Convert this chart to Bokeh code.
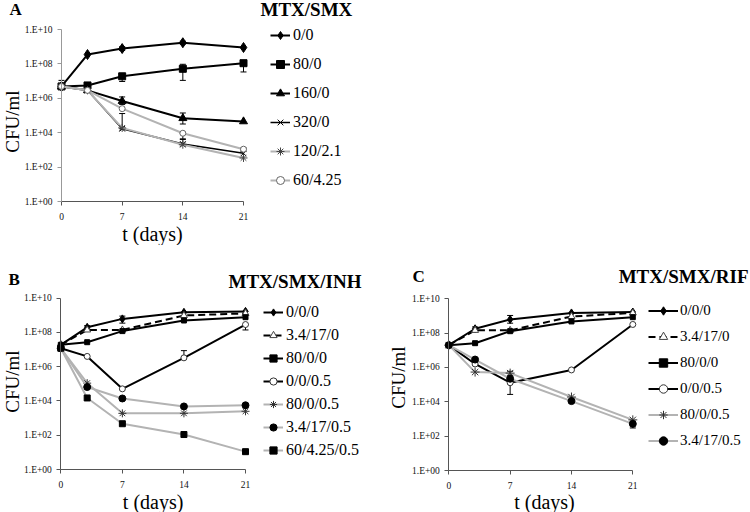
import math
from bokeh.plotting import figure
from bokeh.models import (Range1d, FixedTicker, CustomJSTickFormatter, Legend, LegendItem,
                          Label, Whisker, ColumnDataSource, TeeHead)
from bokeh.layouts import column, row
from bokeh.embed import file_html
from bokeh.resources import INLINE

FONT = "Liberation Serif"
BLACK = "#000000"
GRAY = "#b3b3b3"

DAYS = [0, 3, 7, 14, 21]
X_TICKS = [0, 7, 14, 21]
Y_TICKS = [1, 1e2, 1e4, 1e6, 1e8, 1e10]

# ---------------- Panel A: MTX/SMX ----------------
A_TITLE = "MTX/SMX"
A_LABELS = ["0/0", "80/0", "160/0", "320/0", "120/2.1", "60/4.25"]
A_0_0 = [4.9e6, 3.5e8, 7.8e8, 1.7e9, 9.0e8]
A_80_0 = [4.9e6, 5.6e6, 1.9e7, 5.2e7, 1.1e8]
A_160_0 = [4.9e6, 2.9e6, 6.9e5, 6.9e4, 4.5e4]
A_320_0 = [4.9e6, 2.9e6, 1.7e4, 2.2e3, 6.3e2]
A_120_21 = [4.9e6, 2.9e6, 1.9e4, 2.0e3, 3.4e2]
A_60_425 = [4.9e6, 2.9e6, 2.5e5, 9.3e3, 1.1e3]
A_SERIES = [A_0_0, A_80_0, A_160_0, A_320_0, A_120_21, A_60_425]
A_ERR_X = [0, 7, 14, 7, 14, 21, 7, 14, 7, 14, 14, 21]
A_ERR_LO = [4.9e6, 6.0e8, 1.4e9, 9.5e6, 1.1e7, 3.4e7, 4.4e5, 3.2e4, 1.7e4, 4.4e3, 2.0e3, 8.0e2]
A_ERR_HI = [1.1e7, 1.0e9, 2.1e9, 2.4e7, 9.5e7, 1.6e8, 1.2e6, 1.4e5, 1.3e5, 9.3e3, 4.0e3, 1.3e3]

# ---------------- Panel B: MTX/SMX/INH ----------------
B_TITLE = "MTX/SMX/INH"
B_LABELS = ["0/0/0", "3.4/17/0", "80/0/0", "0/0/0.5", "80/0/0.5", "3.4/17/0.5", "60/4.25/0.5"]
B_0_0_0 = [1.9e7, 2.0e8, 6.2e8, 1.5e9, 1.7e9]
B_34_17_0 = [1.9e7, 1.4e8, 1.4e8, 9.8e8, 1.3e9]
B_80_0_0 = [1.9e7, 2.7e7, 1.2e8, 5.0e8, 7.8e8]
B_0_0_05 = [1.2e7, 4.0e6, 5.1e4, 3.3e6, 2.9e8]
B_80_0_05 = [1.2e7, 1.1e5, 1.9e3, 1.9e3, 2.5e3]
B_34_17_05 = [1.2e7, 6.5e4, 1.4e4, 4.8e3, 5.6e3]
B_60_425_05 = [1.2e7, 1.5e4, 4.7e2, 1.1e2, 1.1e1]
B_SERIES = [B_0_0_0, B_34_17_0, B_80_0_0, B_0_0_05, B_80_0_05, B_34_17_05, B_60_425_05]
B_ERR_X = [3, 7, 14, 21, 14]
B_ERR_LO = [1.6e8, 3.5e8, 3.3e6, 1.4e8, 7.0e8]
B_ERR_HI = [2.5e8, 9.0e8, 8.7e6, 2.9e8, 1.0e9]

# ---------------- Panel C: MTX/SMX/RIF ----------------
C_TITLE = "MTX/SMX/RIF"
C_LABELS = ["0/0/0", "3.4/17/0", "80/0/0", "0/0/0.5", "80/0/0.5", "3.4/17/0.5"]
C_0_0_0 = [2.0e7, 1.8e8, 6.3e8, 1.5e9, 1.7e9]
C_34_17_0 = [2.0e7, 1.45e8, 1.45e8, 9.3e8, 1.5e9]
C_80_0_0 = [2.0e7, 2.6e7, 1.3e8, 4.8e8, 8.5e8]
C_0_0_05 = [2.0e7, 1.6e6, 1.3e5, 7.2e5, 3.2e8]
C_80_0_05 = [2.0e7, 5.4e5, 4.7e5, 1.9e4, 8.9e2]
C_34_17_05 = [2.0e7, 2.9e6, 2.2e5, 1.1e4, 5.2e2]
C_SERIES = [C_0_0_0, C_34_17_0, C_80_0_0, C_0_0_05, C_80_0_05, C_34_17_05]
C_ERR_X = [3, 7, 7, 7, 21]
C_ERR_LO = [1.4e8, 3.8e8, 2.7e4, 3.5e5, 3.0e2]
C_ERR_HI = [2.3e8, 1.07e9, 1.3e5, 6.0e5, 7.5e2]

# styles: (line color, line width, dash, marker, size, fill color, marker line color)
A_STYLES = [
    (BLACK, 2, "solid", "diamond", 10, BLACK, BLACK),
    (BLACK, 2, "solid", "square", 7, BLACK, BLACK),
    (BLACK, 2, "solid", "triangle", 8, BLACK, BLACK),
    (BLACK, 1.5, "solid", "x", 8, None, BLACK),
    (GRAY, 2, "solid", "asterisk", 8, None, "#444444"),
    (GRAY, 2, "solid", "circle", 6, "white", "#666666"),
]
B_STYLES = [
    (BLACK, 2, "solid", "diamond", 8, BLACK, BLACK),
    (BLACK, 2, "7 4", "triangle", 7, "white", "#444444"),
    (BLACK, 2, "solid", "square", 5, BLACK, BLACK),
    (BLACK, 2, "solid", "circle", 6, "white", "#333333"),
    (GRAY, 2, "solid", "asterisk", 8, None, "#333333"),
    (GRAY, 2, "solid", "circle", 7, BLACK, BLACK),
    (GRAY, 2, "solid", "square", 6, BLACK, BLACK),
]
C_STYLES = [
    (BLACK, 2, "solid", "diamond", 8, BLACK, BLACK),
    (BLACK, 2, "7 4", "triangle", 7, "white", "#444444"),
    (BLACK, 2, "solid", "square", 5, BLACK, BLACK),
    (BLACK, 2, "solid", "circle", 6, "white", "#333333"),
    (GRAY, 2, "solid", "asterisk", 9, None, "#333333"),
    (GRAY, 2, "solid", "circle", 7, BLACK, BLACK),
]

TICK_FMT = "return '1.E+' + String(Math.round(Math.log10(tick))).padStart(2, '0');"


def make_panel(width, height, px, series, labels, styles,
               err_x, err_lo, err_hi, letter, title, lay, yaxis_color):
    # px: pixel positions (from figure's top-left) of day 0, day 21, 1E+10 and 1E+00
    x0px, x21px, y10px, y0px = px
    ppd = (x21px - x0px) / 21.0
    ppdec = (y0px - y10px) / 10.0
    xr = Range1d(-x0px / ppd, (width - x0px) / ppd)
    yr = Range1d(10 ** (-(height - y0px) / ppdec), 10 ** (10 + y10px / ppdec))

    p = figure(width=width, height=height, x_range=xr, y_range=yr,
               y_axis_type="log", output_backend="svg", toolbar_location=None,
               min_border_left=0, min_border_right=0, min_border_top=0, min_border_bottom=0)
    p.outline_line_color = None
    p.xgrid.visible = False
    p.ygrid.visible = False
    p.background_fill_color = "white"
    p.border_fill_color = "white"

    xa = p.xaxis[0]
    xa.ticker = FixedTicker(ticks=X_TICKS)
    xa.fixed_location = 1
    xa.bounds = (0, 21)
    xa.major_tick_in = 0
    xa.major_tick_out = 4
    xa.minor_tick_in = 0
    xa.minor_tick_out = 0
    xa.major_label_standoff = 7
    xa.major_label_text_font = FONT
    xa.major_label_text_font_size = "9.5px"
    xa.major_label_text_color = "#111111"
    xa.axis_line_color = "#555555"
    xa.major_tick_line_color = "#555555"

    ya = p.yaxis[0]
    ya.ticker = FixedTicker(ticks=Y_TICKS)
    ya.formatter = CustomJSTickFormatter(code=TICK_FMT)
    ya.fixed_location = 0
    ya.bounds = (1, 1e10)
    ya.major_tick_in = 0
    ya.major_tick_out = 4
    ya.minor_tick_in = 0
    ya.minor_tick_out = 0
    ya.major_label_standoff = 5
    ya.major_label_text_font = FONT
    ya.major_label_text_font_size = "9.5px"
    ya.major_label_text_color = "#111111"
    ya.axis_line_color = yaxis_color
    ya.major_tick_line_color = yaxis_color

    items = []
    for vals, lab, st in zip(series, labels, styles):
        lc, lw, dash, mk, sz, fill, mlc = st
        lr = p.line(DAYS, vals, line_color=lc, line_width=lw, line_dash=dash)
        sr = p.scatter(DAYS, vals, marker=mk, size=sz, fill_color=fill,
                       line_color=mlc, line_width=1)
        items.append(LegendItem(label=lab, renderers=[lr, sr]))

    src = ColumnDataSource(data=dict(x=err_x, lo=err_lo, hi=err_hi))
    wh = Whisker(source=src, base="x", lower="lo", upper="hi", dimension="height",
                 line_color="black", line_width=1,
                 upper_head=TeeHead(size=6, line_color="black", line_width=1),
                 lower_head=TeeHead(size=6, line_color="black", line_width=1))
    p.add_layout(wh)

    leg = Legend(items=items, location=lay["leg_loc"], orientation="vertical",
                 border_line_color=None, background_fill_alpha=0,
                 padding=0, margin=0, spacing=lay["spacing"],
                 glyph_width=lay["gw"], glyph_height=lay["gh"], label_height=lay["gh"],
                 label_standoff=lay["standoff"], label_text_font=FONT,
                 label_text_font_size=lay["lfs"], label_text_color="black")
    p.add_layout(leg, "center")

    def lab(pos, text, size, bold=False, align="left", angle=0.0):
        p.add_layout(Label(x=pos[0], y=height - pos[1], x_units="screen", y_units="screen",
                           text=text, text_font=FONT, text_font_size=size,
                           text_font_style="bold" if bold else "normal",
                           text_align=align, text_baseline="middle", angle=angle,
                           text_color="black"))

    lab(lay["letter"], letter, "17px", bold=True)
    lab(lay["title"], title, "19px", bold=True, align=lay["title_align"])
    lab(lay["ylab"], "CFU/ml", "19px", align="center", angle=math.pi / 2)
    lab(lay["xlab"], "t (days)", "20px", align="center")
    return p


def leg_loc(height, top, n, gh, spacing, x):
    bottom = top + n * gh + (n - 1) * spacing
    return (x, height - bottom)


HA, HB = 245, 267

pA = make_panel(380, HA, (61, 243, 29, 201), A_SERIES, A_LABELS, A_STYLES,
                A_ERR_X, A_ERR_LO, A_ERR_HI, "A", A_TITLE,
                dict(leg_loc=leg_loc(HA, 25, 6, 20, 9, 270), spacing=9, gw=20, gh=20,
                     standoff=3, lfs="16px",
                     letter=(9, 9), title=(260, 9), title_align="left",
                     ylab=(12, 121), xlab=(152, 233)), "#999999")

pB = make_panel(380, HB, (60.3, 245, 52.7, 224), B_SERIES, B_LABELS, B_STYLES,
                B_ERR_X, B_ERR_LO, B_ERR_HI, "B", B_TITLE,
                dict(leg_loc=leg_loc(HB, 57.7, 7, 18, 5, 263), spacing=5, gw=20, gh=18,
                     standoff=3, lfs="16px",
                     letter=(8, 33.5), title=(228, 36), title_align="left",
                     ylab=(12, 136), xlab=(152.6, 256)), "#555555")

pC = make_panel(370, HB, (68.3, 252.3, 53.3, 225), C_SERIES, C_LABELS, C_STYLES,
                C_ERR_X, C_ERR_LO, C_ERR_HI, "C", C_TITLE,
                dict(leg_loc=leg_loc(HB, 55, 6, 21, 5, 268), spacing=5, gw=30, gh=21,
                     standoff=2, lfs="15px",
                     letter=(32, 31), title=(368, 31), title_align="right",
                     ylab=(18, 132), xlab=(164, 256)), "#555555")

layout = column(pA, row(pB, pC))
open("out.html", "w").write(file_html(layout, INLINE))
